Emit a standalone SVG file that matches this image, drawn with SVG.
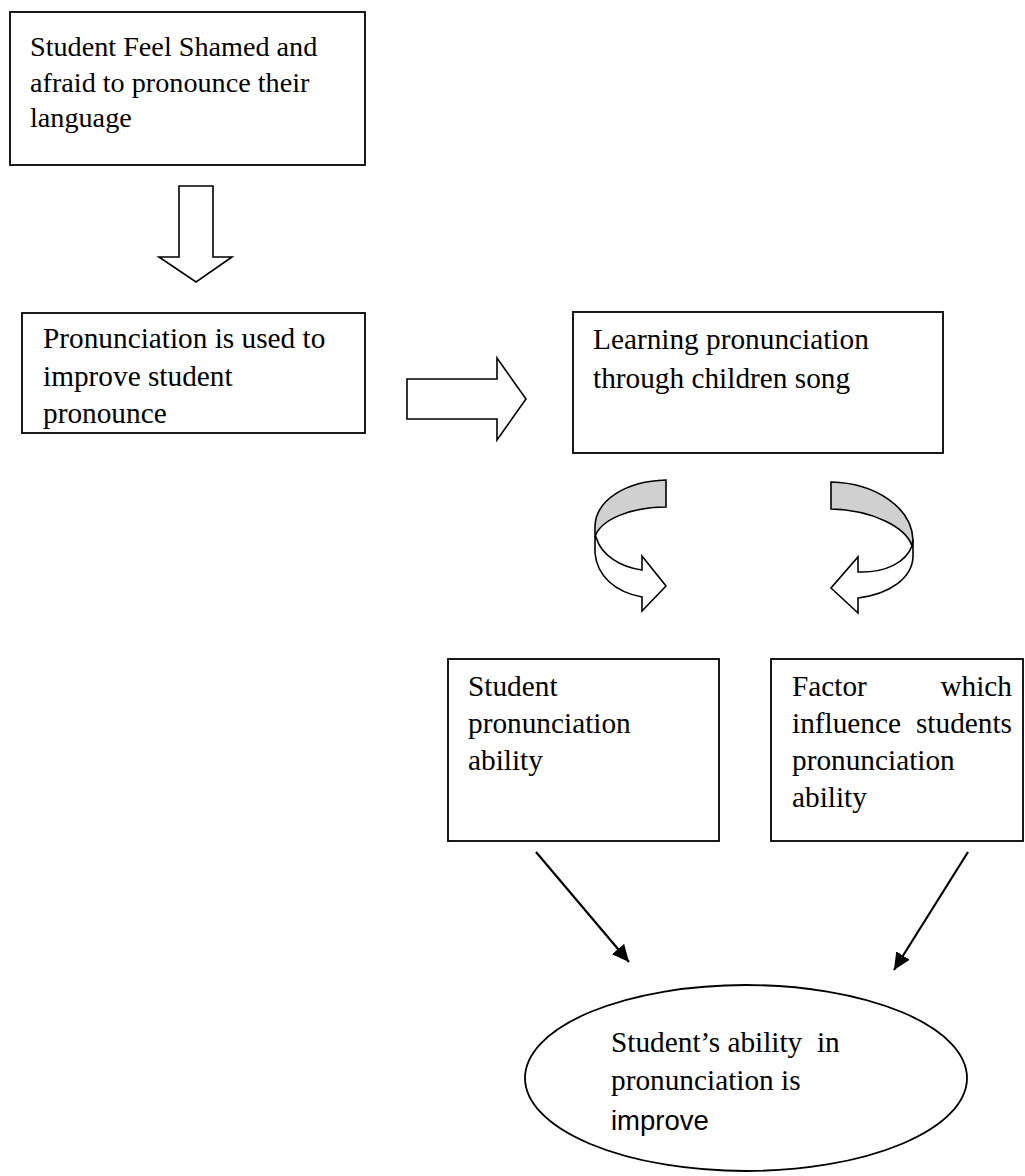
<svg xmlns="http://www.w3.org/2000/svg" width="1025" height="1176" viewBox="0 0 1025 1176">
<style>
.box{fill:#fff;stroke:#000;stroke-width:1.8}
.t{font-family:"Liberation Serif","Times New Roman",serif;font-size:29.3px;fill:#000}
.t1{font-size:28.2px}
.s{font-family:"Liberation Sans",Arial,sans-serif;font-size:27.5px;fill:#000}
.blk{fill:#fff;stroke:#000;stroke-width:1.6;stroke-linejoin:miter}
.grey{fill:#d0d0d0;stroke:#000;stroke-width:1.6}
.ln{stroke:#000;stroke-width:2.2;fill:none}
</style>
<defs>
<marker id="ah" markerUnits="userSpaceOnUse" markerWidth="20" markerHeight="20" refX="17" refY="8" orient="auto">
<path d="M0,0 L17,8 L0,16 Z" fill="#000"/>
</marker>
</defs>
<rect width="1025" height="1176" fill="#fff"/>

<g id="node-shamed">
<rect class="box" x="10" y="12" width="355" height="153"/>
<text class="t t1" x="30" y="56">Student Feel Shamed and</text>
<text class="t t1" x="30" y="91.5">afraid to pronounce their</text>
<text class="t t1" x="30" y="127">language</text>
</g>

<g id="node-pronunciation">
<rect class="box" x="22" y="313" width="343" height="120"/>
<text class="t" x="43" y="348">Pronunciation is used to</text>
<text class="t" x="43" y="386">improve student</text>
<text class="t" x="43" y="423">pronounce</text>
</g>

<g id="node-learning">
<rect class="box" x="573" y="312" width="370" height="141"/>
<text class="t" x="593" y="349">Learning pronunciation</text>
<text class="t" x="593" y="388">through children song</text>
</g>

<g id="node-ability">
<rect class="box" x="448" y="659" width="271" height="182"/>
<text class="t" x="468" y="696">Student</text>
<text class="t" x="468" y="733">pronunciation</text>
<text class="t" x="468" y="770">ability</text>
</g>

<g id="node-factor">
<rect class="box" x="771" y="659" width="252" height="182"/>
<text class="t" x="792" y="696">Factor</text>
<text class="t" x="1012" y="696" text-anchor="end">which</text>
<text class="t" x="792" y="733">influence</text>
<text class="t" x="1012" y="733" text-anchor="end">students</text>
<text class="t" x="792" y="770">pronunciation</text>
<text class="t" x="792" y="807">ability</text>
</g>

<g id="node-improve">
<ellipse class="box" cx="746" cy="1078" rx="221" ry="93"/>
<text class="t" x="611" y="1052" xml:space="preserve">Student’s ability  in</text>
<text class="t" x="611" y="1090">pronunciation is</text>
<text class="s" x="611" y="1130">improve</text>
</g>

<g id="connectors">
<path class="blk" d="M179,186 L213,186 L213,257 L232,257 L196,282 L159,257 L179,257 Z"/>
<path class="blk" d="M407,379 L497,379 L497,358 L526,399 L497,440 L497,419 L407,419 Z"/>
<path class="grey" d="M666,480 C626,481 596,500 595,526 L595,537 C600,520 630,507 666,507 Z"/>
<path class="blk" d="M596,537 C601,555 620,567 642,570 L642,556 L666,586 L642,611 L642,597 C615,592 597,576 595,553 L595,537 Z"/>
<path class="grey" d="M831,482 C876,483 912,508 913,540 L912,546 C906,527 872,510 831,509 Z"/>
<path class="blk" d="M912,546 C906,562 886,573 858,572 L858,557 L831,588 L858,613 L858,598 C890,594 912,578 913,557 L913,540 Z"/>
<line class="ln" x1="536" y1="852" x2="629" y2="962" marker-end="url(#ah)"/>
<line class="ln" x1="968" y1="852" x2="894" y2="970" marker-end="url(#ah)"/>
</g>
</svg>
